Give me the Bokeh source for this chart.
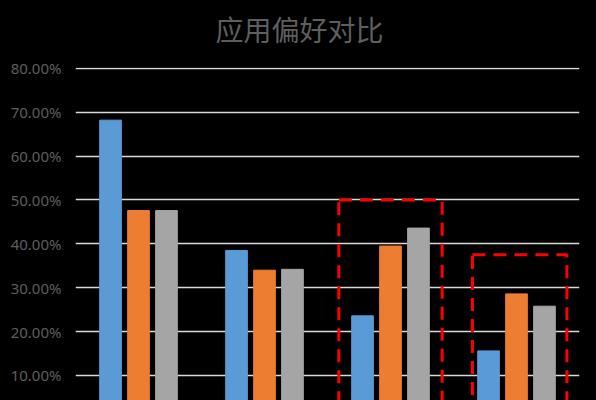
from bokeh.plotting import figure
from bokeh.models import Range1d, FixedTicker, NumeralTickFormatter, ColumnDataSource, Title
from bokeh.embed import file_html
from bokeh.resources import INLINE
from bokeh.transform import dodge

title_text = "应用偏好对比"
categories = ["类别1", "类别2", "类别3", "类别4"]
series_blue = [0.682, 0.385, 0.236, 0.156]
series_orange = [0.476, 0.340, 0.395, 0.286]
series_gray = [0.476, 0.342, 0.436, 0.258]
y_ticks = [0.1, 0.2, 0.3, 0.4, 0.5, 0.6, 0.7, 0.8]
highlight_left = [2.09, 3.15]
highlight_right = [2.91, 3.90]
highlight_top = [0.50, 0.375]

x_pos = [i + 0.5 for i in range(len(categories))]
src = ColumnDataSource(dict(x=x_pos, cat=categories, a=series_blue, b=series_orange, c=series_gray))

p = figure(width=596, height=400, output_backend="svg", toolbar_location=None, title=None,
           x_range=Range1d(0, len(categories)), y_range=Range1d(0.043, 0.802),
           min_border_left=75, min_border_right=17, min_border_top=67, min_border_bottom=0)
p.background_fill_color = "black"
p.border_fill_color = "black"
p.outline_line_color = None

# spacer between the plot area and the title
p.add_layout(Title(text=" ", text_font_size="10px", standoff=1, text_color="black"), "above")
p.add_layout(Title(text=title_text, align="left", offset=140, standoff=10,
                   text_font="Noto Sans CJK SC", text_font_style="normal",
                   text_font_size="28px", text_color="#5E5E5E"), "above")

bw = 0.172
off = 0.222
p.vbar(x=dodge("x", -off), top="a", width=bw, bottom=0, source=src, color="#5B9BD5")
p.vbar(x=dodge("x", 0), top="b", width=bw, bottom=0, source=src, color="#ED7D31")
p.vbar(x=dodge("x", off), top="c", width=bw, bottom=0, source=src, color="#A5A5A5")

p.quad(left=highlight_left, right=highlight_right, top=highlight_top, bottom=[0.0, 0.0],
       fill_alpha=0, line_color="#FF0000", line_width=3, line_dash="13 8")

p.xaxis.visible = False
p.xgrid.visible = False
ticker = FixedTicker(ticks=y_ticks)
p.yaxis.ticker = ticker
p.yaxis.formatter = NumeralTickFormatter(format="0.00%")
p.yaxis.axis_line_color = None
p.yaxis.major_tick_line_color = None
p.yaxis.minor_tick_line_color = None
p.yaxis.major_tick_out = 0
p.yaxis.major_tick_in = 0
p.yaxis.major_label_standoff = 14
p.yaxis.major_label_text_font = "Noto Sans"
p.yaxis.major_label_text_font_size = "15px"
p.yaxis.major_label_text_color = "#5E5E5E"
p.ygrid.ticker = ticker
p.ygrid.grid_line_color = "#D9D9D9"
p.ygrid.grid_line_width = 1.5

html = file_html(p, INLINE)
html = html.replace("</head>", "<style>html,body{background:#000;}</style></head>", 1)
open("out.html", "w").write(html)
